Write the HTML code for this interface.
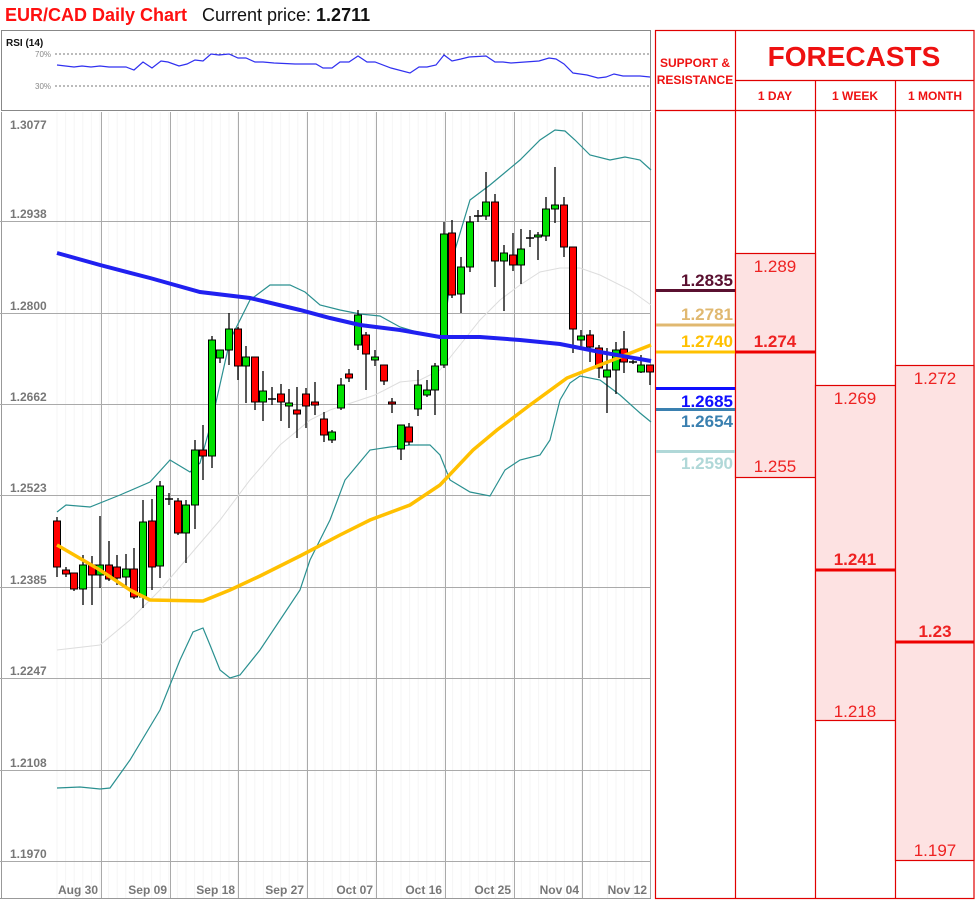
<!DOCTYPE html>
<html><head><meta charset="utf-8">
<style>
body{margin:0;width:975px;height:900px;background:#fff;overflow:hidden;font-family:"Liberation Sans",sans-serif;}
svg{position:absolute;left:0;top:0}
</style></head><body>
<svg id="s" width="975" height="900" xmlns="http://www.w3.org/2000/svg" font-family="Liberation Sans, sans-serif">
<text x="5" y="21" font-size="18" font-weight="bold" fill="#ff1010">EUR/CAD Daily Chart</text>
<text x="202" y="21" font-size="18" fill="#111">Current price: <tspan font-weight="bold">1.2711</tspan></text>
<rect x="1.5" y="30.5" width="649" height="80" fill="#fff" stroke="#888"/>
<text x="6" y="46" font-size="10" font-weight="bold" fill="#111">RSI (14)</text>
<line x1="55" y1="54" x2="650" y2="54" stroke="#777" stroke-dasharray="2,2"/>
<line x1="55" y1="86" x2="650" y2="86" stroke="#777" stroke-dasharray="2,2"/>
<text x="35" y="57" font-size="8" fill="#888">70%</text>
<text x="35" y="89" font-size="8" fill="#888">30%</text>
<polyline fill="none" stroke="#3030f0" stroke-width="1.2" points="57,65 74,67 82,66 91,67 100,66 109,67 126,67 134,70 143,62 152,68 161,61 168,62 179,66 187,64 195,60 203,61 211,54 219,55 229,54 238,58 246,58 255,62 263,62 274,63 295,64 316,64 323,68 332,68 340,62 349,62 358,56 367,62 375,62 391,68 410,73 419,67 427,67 436,65 444,55 452,61 461,59 469,57 486,56 495,62 503,62 511,63 539,61 549,58 556,59 564,64 573,73 587,75 598,78 606,77 614,74 623,76 640,76 650,77"/>
<line x1="1.5" y1="112" x2="1.5" y2="898" stroke="#999"/>
<line x1="0" y1="898.5" x2="651" y2="898.5" stroke="#999"/>
<g id="grid"></g>
<g id="lab" font-size="12" font-weight="bold" fill="#777"></g>
<polyline fill="none" stroke="#ddd" stroke-width="1" points="57,650 100,645 130,620 160,590 190,555 220,520 250,480 280,445 310,420 330,410 360,400 375,395 400,382 420,380 440,370 460,345 480,320 500,300 520,285 540,272 560,268 580,268 600,275 630,290 651,305"/>
<polyline fill="none" stroke="#2a9090" stroke-width="1.2" points="57,512 66,505 90,507 120,495 150,482 170,460 190,472 200,463 212,420 230,340 250,300 270,285 290,285 305,292 320,305 340,310 360,314 380,316 400,327 420,333 440,336 445,320 455,250 470,200 490,185 520,160 540,140 555,130 565,131 575,140 590,155 610,160 625,157 640,160 651,170"/>
<polyline fill="none" stroke="#2a9090" stroke-width="1.2" points="57,788 80,787 100,789 110,788 130,760 160,710 180,660 193,632 203,628 210,645 220,670 230,678 240,675 260,650 280,620 300,590 310,560 330,520 345,480 360,462 370,450 390,447 410,445 430,445 440,455 450,480 470,492 490,496 505,470 520,460 540,455 550,440 560,400 570,383 580,376 600,380 620,395 640,413 651,422"/>
<g id="c"></g>
<polyline fill="none" stroke="#ffc000" stroke-width="3.5" points="57,545 100,570 130,590 150,600 203,601 230,590 260,576 300,556 340,535 370,520 410,505 440,485 473,450 497,430 530,405 567,378 600,365 651,345"/>
<polyline fill="none" stroke="#2020f0" stroke-width="4" points="57,253 100,265 150,278 200,292 250,298 300,310 330,318 360,325 400,330 440,337 480,337 520,340 560,344 600,352 651,361"/>
<g stroke="#e00000" stroke-width="1.2" fill="none">
<rect x="655.5" y="30.5" width="318.5" height="868"/>
<line x1="655" y1="110.5" x2="974" y2="110.5"/>
<line x1="735" y1="80.5" x2="974" y2="80.5"/>
<line x1="735.5" y1="30" x2="735.5" y2="898"/>
<line x1="815.5" y1="80" x2="815.5" y2="898"/>
<line x1="895.5" y1="80" x2="895.5" y2="898"/>
</g>
<g fill="#fde2e2" stroke="#e00000" stroke-width="1.2">
<rect x="735.5" y="253.5" width="80" height="224"/>
<rect x="815.5" y="385.5" width="80" height="335"/>
<rect x="895.5" y="365.5" width="78.5" height="495"/>
</g>
<g fill="#ee0000">
<rect x="735" y="350.5" width="80" height="3"/>
<rect x="815" y="568.5" width="80" height="3"/>
<rect x="895" y="640.5" width="79" height="3"/>
</g>
<g fill="#ee1111" font-weight="bold" text-anchor="middle">
<text x="695" y="67" font-size="12">SUPPORT &amp;</text>
<text x="695" y="84" font-size="12">RESISTANCE</text>
<text x="854" y="66" font-size="28">FORECASTS</text>
<text x="775" y="100" font-size="12">1 DAY</text>
<text x="855" y="100" font-size="12">1 WEEK</text>
<text x="935" y="100" font-size="12">1 MONTH</text>
</g>
<g fill="#ee2222" font-size="17" text-anchor="middle">
<text x="775" y="272">1.289</text>
<text x="775" y="472">1.255</text>
<text x="775" y="347" font-weight="bold">1.274</text>
<text x="855" y="404">1.269</text>
<text x="855" y="717">1.218</text>
<text x="855" y="565" font-weight="bold">1.241</text>
<text x="935" y="384">1.272</text>
<text x="935" y="856">1.197</text>
<text x="935" y="637" font-weight="bold">1.23</text>
</g>
<g font-size="17" font-weight="bold" text-anchor="end">
<rect x="656" y="289" width="79" height="3" fill="#5a1030"/><text x="733" y="286" fill="#5a1030">1.2835</text>
<rect x="656" y="323.5" width="79" height="3" fill="#e0b870"/><text x="733" y="320" fill="#e0b870">1.2781</text>
<rect x="656" y="350.5" width="79" height="3" fill="#ffc000"/><text x="733" y="347" fill="#ffc000">1.2740</text>
<rect x="656" y="387" width="79" height="3" fill="#1010ff"/><text x="733" y="407" fill="#1010ff">1.2685</text>
<rect x="656" y="408" width="79" height="3" fill="#3a80b0"/><text x="733" y="427" fill="#3a80b0">1.2654</text>
<rect x="656" y="450" width="79" height="3" fill="#b0d8d8"/><text x="733" y="469" fill="#b0d8d8">1.2590</text>
</g>
</svg>
<script>
var NS="http://www.w3.org/2000/svg";
function el(p,t,a,txt){var e=document.createElementNS(NS,t);for(var k in a)e.setAttribute(k,a[k]);if(txt)e.textContent=txt;p.appendChild(e);return e;}
var g=document.getElementById('grid'),lab=document.getElementById('lab');
for(var x=57;x<651;x+=8.6)el(g,'line',{x1:x,y1:112,x2:x,y2:898,stroke:'#f6f6f6'});
var hy=[221,313,404,495,587,678,770,861],hl=['1.2938','1.2800','1.2662','1.2523','1.2385','1.2247','1.2108','1.1970'];
hy.forEach(function(y,i){el(g,'line',{x1:0,y1:y+.5,x2:651,y2:y+.5,stroke:'#aaa'});el(lab,'text',{x:10,y:y-3},hl[i]);});
el(lab,'text',{x:10,y:129},'1.3077');
var vx=[101,170,238,307,376,445,514,582,650],vl=['Aug 30','Sep 09','Sep 18','Sep 27','Oct 07','Oct 16','Oct 25','Nov 04','Nov 12'];
vx.forEach(function(x,i){el(g,'line',{x1:x+.5,y1:112,x2:x+.5,y2:898,stroke:'#aaa'});el(lab,'text',{x:x-3,y:894,'text-anchor':'end'},vl[i]);});
var C=[[57,'r',521,567,517,577],[66,'r',570,574,567,577],[74,'r',573,589,573,591],[83,'g',565,589,555,605],[92,'r',565,575,556,605],[100,'g',565,575,516,588],[109,'r',565,579,541,581],[117,'r',567,578,555,585],[126,'g',569,577,554,586],[134,'r',569,597,548,599],[143,'g',522,597,500,608],[152,'r',521,567,499,590],[160,'g',486,566,481,578],[169,'d',499,499,493,505],[178,'r',501,533,498,535],[186,'g',505,533,500,563],[195,'g',450,505,440,529],[203,'r',450,456,425,480],[212,'g',340,456,336,468],[220,'g',350,358,350,363],[229,'g',329,350,313,365],[238,'r',329,366,327,380],[246,'g',357,366,346,403],[255,'r',357,402,357,410],[263,'g',391,402,371,421],[272,'d',399,399,387,405],[281,'r',394,402,384,421],[289,'g',403,406,389,428],[297,'r',410,414,387,438],[306,'r',394,406,388,428],[315,'r',402,405,382,415],[324,'r',419,435,412,442],[332,'g',432,440,430,443],[341,'g',385,408,378,410],[349,'r',374,378,369,382],[358,'g',315,345,310,350],[366,'r',335,354,332,390],[375,'g',357,360,350,366],[384,'r',365,381,365,385],[392,'r',402,404,398,413],[401,'g',425,449,425,460],[409,'r',427,442,423,445],[418,'g',385,409,370,416],[427,'g',390,395,380,397],[435,'g',366,390,363,415],[444,'g',234,365,222,368],[452,'r',233,295,220,298],[461,'g',267,294,257,313],[470,'g',222,267,216,272],[478,'d',216,216,210,222],[486,'g',202,216,172,220],[495,'r',202,261,194,287],[504,'g',253,261,245,311],[513,'r',255,265,233,271],[521,'g',249,265,229,284],[530,'d',238,238,230,247],[538,'g',235,237,232,260],[546,'g',209,236,197,241],[555,'g',205,209,167,223],[564,'r',205,247,197,257],[573,'r',247,329,247,353],[581,'g',336,340,330,350],[590,'r',335,347,330,362],[599,'r',348,368,345,378],[607,'g',370,377,348,413],[616,'g',350,370,342,394],[624,'r',349,362,331,373],[633,'d',362,362,360,364],[641,'g',365,372,355,373],[650,'r',365,372,365,385]];
var cg=document.getElementById('c');
C.forEach(function(c){el(cg,'line',{x1:c[0],y1:c[4],x2:c[0],y2:c[5],stroke:'#000','stroke-width':1.3});
if(c[1]=='d'){el(cg,'line',{x1:c[0]-4,y1:c[2],x2:c[0]+4,y2:c[2],stroke:'#000','stroke-width':1.5});}
else el(cg,'rect',{x:c[0]-3.5,y:c[2],width:7,height:Math.max(2,c[3]-c[2]),fill:c[1]=='g'?'#00e000':'#ff0000',stroke:'#000','stroke-width':1});});
</script>
</body></html>
